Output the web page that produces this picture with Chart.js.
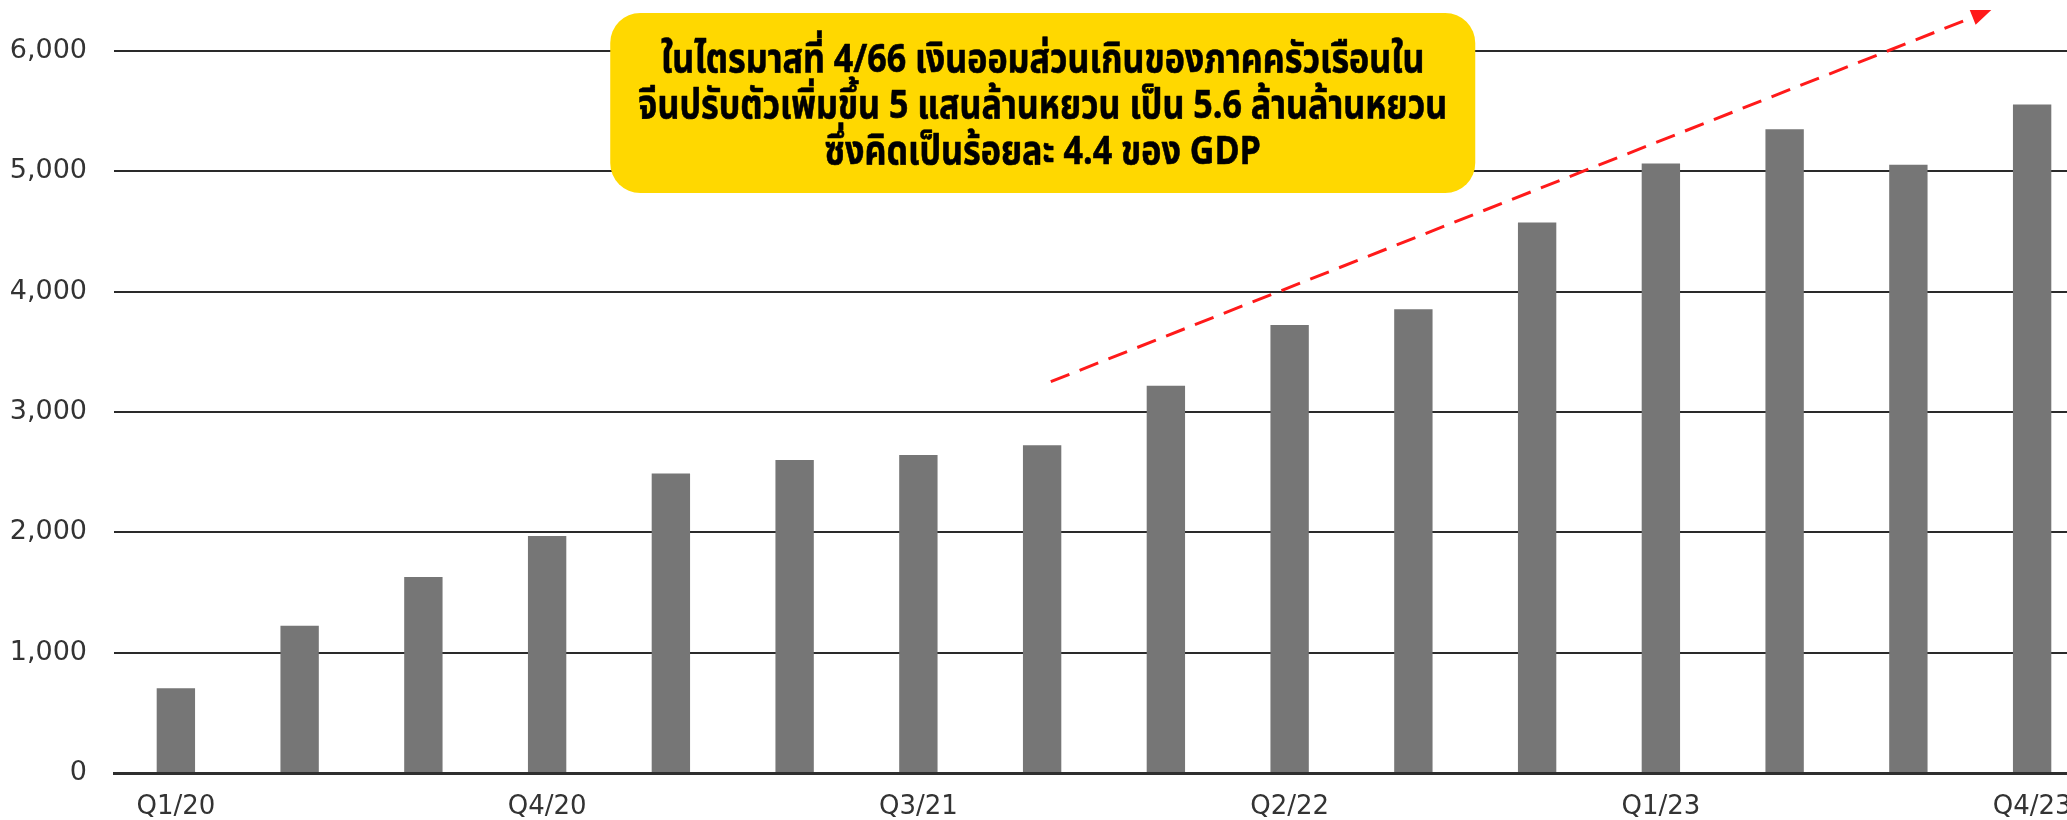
<!DOCTYPE html>
<html><head><meta charset="utf-8">
<script src="https://cdn.jsdelivr.net/npm/chart.js@4.4.1/dist/chart.umd.min.js"></script>
<style>html,body{margin:0;padding:0;background:#fff;overflow:hidden;width:2067px;height:820px}
canvas{display:block}</style></head>
<body><canvas id="c" width="2094" height="820"></canvas>
<script>
// ---- data ----
const categories = ['Q1/20','Q2/20','Q3/20','Q4/20','Q1/21','Q2/21','Q3/21','Q4/21','Q1/22','Q2/22','Q3/22','Q4/22','Q1/23','Q2/23','Q3/23','Q4/23'];
const excessSavings = [704,1224,1629,1970,2488,2601,2643,2723,3219,3724,3854,4575,5066,5350,5055,5556];
const shownTicks = ['Q1/20','Q4/20','Q3/21','Q2/22','Q1/23','Q4/23'];
const yMin = 0, yMax = 6000, yStep = 1000;
const noteLines = [
  'ในไตรมาสที่ 4/66 เงินออมส่วนเกินของภาคครัวเรือนใน',
  'จีนปรับตัวเพิ่มขึ้น 5 แสนล้านหยวน เป็น 5.6 ล้านล้านหยวน',
  'ซึ่งคิดเป็นร้อยละ 4.4 ของ GDP'
];
// annotation anchors in data units (category index, value)
const trendFrom = {x: 7.07, y: 3252};
const trendTo = {x: 14.67, y: 6341};
const noteBox = {x0: 3.51, x1: 10.5, yTop: 6316, yBottom: 4820};

const notePlugin = {
  id: 'note',
  afterDatasetsDraw(chart) {
    const {ctx, scales: {x, y}} = chart;
    ctx.save();
    // dashed trend arrow
    const ax0 = x.getPixelForValue(trendFrom.x), ay0 = y.getPixelForValue(trendFrom.y);
    const ax1 = x.getPixelForValue(trendTo.x), ay1 = y.getPixelForValue(trendTo.y);
    const ang = Math.atan2(ay1 - ay0, ax1 - ax0);
    const hl = 20, hw = 8;
    const bx = ax1 - hl * Math.cos(ang), by = ay1 - hl * Math.sin(ang);
    ctx.strokeStyle = '#ff1a1a'; ctx.fillStyle = '#ff1a1a';
    ctx.lineWidth = 3; ctx.setLineDash([20, 11]);
    ctx.beginPath(); ctx.moveTo(ax0, ay0); ctx.lineTo(bx, by); ctx.stroke();
    ctx.setLineDash([]);
    ctx.beginPath();
    ctx.moveTo(ax1, ay1);
    ctx.lineTo(bx + hw * Math.sin(ang), by - hw * Math.cos(ang));
    ctx.lineTo(bx - hw * Math.sin(ang), by + hw * Math.cos(ang));
    ctx.closePath(); ctx.fill();
    // yellow note box
    const bx0 = x.getPixelForValue(noteBox.x0), bx1 = x.getPixelForValue(noteBox.x1);
    const by0 = y.getPixelForValue(noteBox.yTop), by1 = y.getPixelForValue(noteBox.yBottom);
    ctx.fillStyle = '#FFD800';
    ctx.beginPath();
    ctx.roundRect(bx0, by0, bx1 - bx0, by1 - by0, 30);
    ctx.fill();
    // text
    ctx.fillStyle = '#000'; ctx.strokeStyle = '#000'; ctx.lineWidth = 0.6; ctx.lineJoin = 'round';
    ctx.font = "bold 40px 'Noto Sans Thai', 'Noto Sans Thai UI', 'Noto Sans', sans-serif";
    ctx.textAlign = 'center'; ctx.textBaseline = 'alphabetic';
    const maxW = Math.max(...noteLines.map(l => ctx.measureText(l).width));
    const targetW = (bx1 - bx0) * 0.935;
    const s = Math.min(1, targetW / maxW);
    const cx = (bx0 + bx1) / 2, cy = (by0 + by1) / 2;
    const lh = 46;
    noteLines.forEach((l, i) => {
      ctx.save();
      ctx.translate(cx, cy - 31 + i * lh);
      ctx.scale(s, 1);
      ctx.fillText(l, 0, 0);
      ctx.strokeText(l, 0, 0);
      ctx.restore();
    });
    ctx.restore();
  }
};

new Chart(document.getElementById('c'), {
  type: 'bar',
  data: {
    labels: categories,
    datasets: [{
      data: excessSavings,
      backgroundColor: '#767676',
      borderWidth: 0,
      barPercentage: 0.31,
      categoryPercentage: 1
    }]
  },
  options: {
    responsive: false,
    animation: false,
    events: [],
    layout: {padding: {top: 51, left: 0, right: 0, bottom: 0}},
    plugins: {legend: {display: false}, tooltip: {enabled: false}},
    scales: {
      x: {
        grid: {display: false, drawTicks: false},
        border: {display: true, color: '#2e2e2e', width: 3},
        afterFit(s) { s.height = 47; },
        ticks: {
          autoSkip: false, maxRotation: 0, padding: 19,
          color: '#333',
          font: {family: "'DejaVu Sans', sans-serif", size: 26},
          callback(v, i) { const l = categories[i]; return shownTicks.includes(l) ? l : ''; }
        }
      },
      y: {
        min: yMin, max: yMax,
        afterFit(s) { s.width = 114; },
        grid: {color: '#2a2a2a', lineWidth: 2, drawTicks: false},
        border: {display: false},
        ticks: {
          stepSize: yStep, padding: 27,
          color: '#333',
          font: {family: "'DejaVu Sans', sans-serif", size: 27},
          callback(v) { return v.toLocaleString('en-US'); }
        }
      }
    }
  },
  plugins: [notePlugin]
});
</script>
</body></html>
